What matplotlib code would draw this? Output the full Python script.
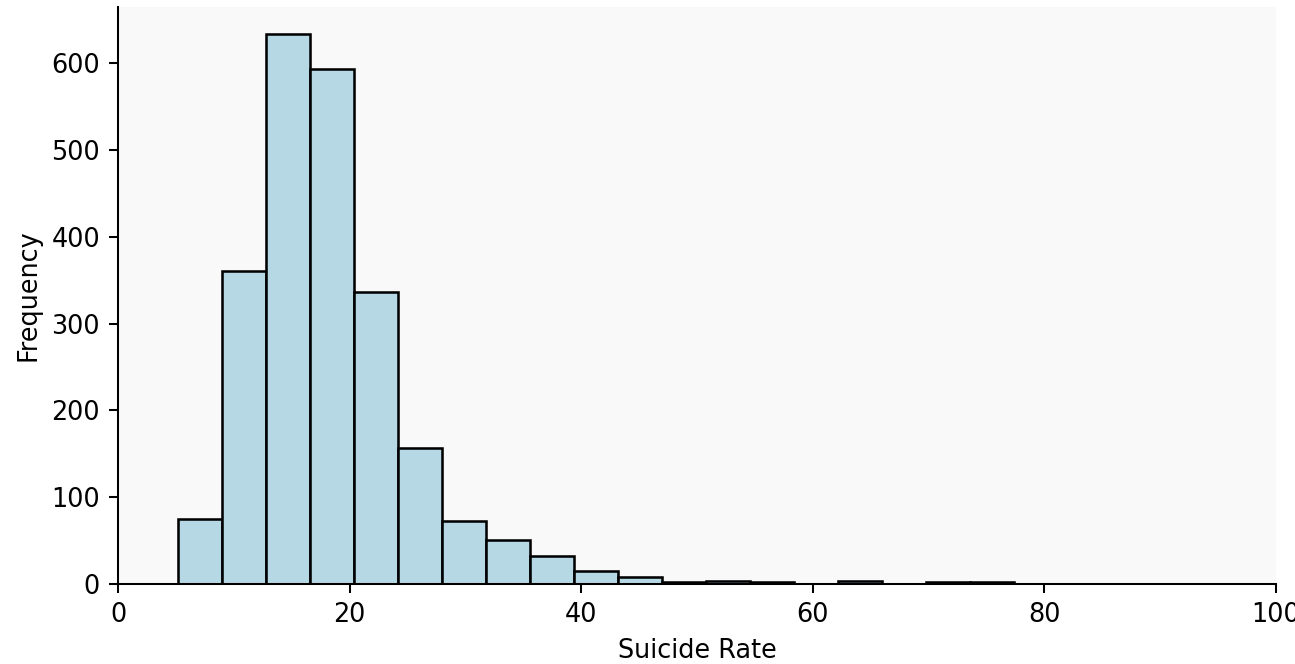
import matplotlib
matplotlib.use("Agg")
import matplotlib.pyplot as plt
import numpy as np

# Histogram bin edges (Suicide Rate) and counts per bin
bin_start = 5.18
bin_width = 3.8
n_bins = 19
counts = [75, 360, 633, 593, 336, 157, 73, 51, 32, 15, 8, 2, 4, 2, 0, 4, 0, 2, 2]

edges = bin_start + bin_width * np.arange(n_bins + 1)
centers = (edges[:-1] + edges[1:]) / 2

DPI = 184
fig = plt.figure(figsize=(1295 / DPI, 664 / DPI), dpi=DPI)
ax = fig.add_axes([118 / 1295, 1 - 584 / 664, 1158 / 1295, 577 / 664])
ax.set_facecolor("#f9f9f9")
ax.hist(centers, bins=edges, weights=counts, color="#b6d8e4", edgecolor="black")
ax.set_xlim(0, 100)
ax.set_xlabel("Suicide Rate")
ax.set_ylabel("Frequency")
ax.spines["top"].set_visible(False)
ax.spines["right"].set_visible(False)

fig.savefig("out.png", dpi=DPI)
